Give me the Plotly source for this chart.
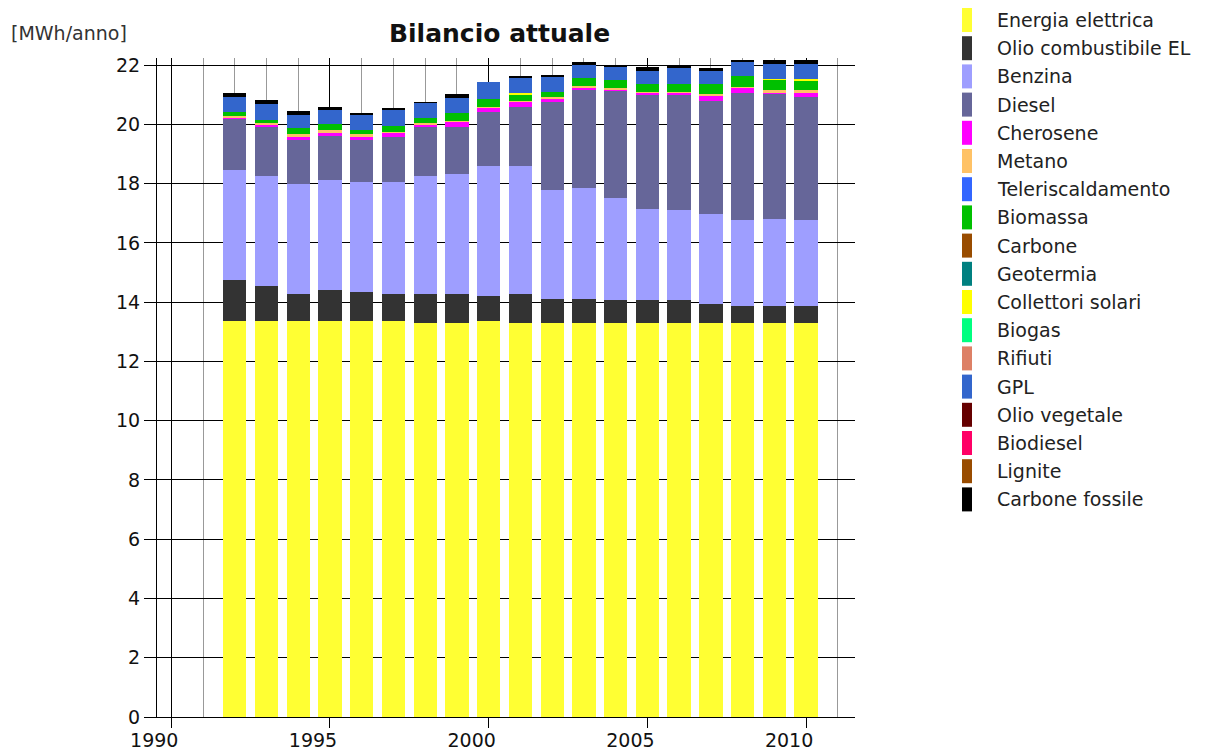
import plotly.graph_objects as go

years = list(range(1992, 2011))

energia_elettrica = [13.35, 13.35, 13.35, 13.35, 13.35, 13.35, 13.3, 13.3, 13.35, 13.3,
                     13.3, 13.3, 13.3, 13.3, 13.3, 13.3, 13.3, 13.3, 13.3]
olio_combustibile = [1.39, 1.19, 0.92, 1.06, 0.99, 0.92, 0.97, 0.97, 0.85, 0.97,
                     0.82, 0.82, 0.77, 0.77, 0.77, 0.63, 0.57, 0.57, 0.57]
benzina = [3.71, 3.71, 3.71, 3.71, 3.71, 3.78, 3.98, 4.05, 4.39, 4.32,
           3.66, 3.73, 3.43, 3.09, 3.03, 3.04, 2.90, 2.95, 2.90]
diesel = [1.74, 1.69, 1.49, 1.48, 1.42, 1.52, 1.69, 1.58, 1.83, 2.00,
          2.99, 3.30, 3.63, 3.83, 3.89, 3.82, 4.29, 4.22, 4.16]
cherosene = [0.03, 0.04, 0.12, 0.12, 0.12, 0.14, 0.04, 0.18, 0.14, 0.18,
             0.08, 0.10, 0.06, 0.07, 0.07, 0.17, 0.17, 0.05, 0.16]
metano = [0.06, 0.05, 0.07, 0.08, 0.08, 0.03, 0.05, 0.02, 0.02, 0.02,
          0.07, 0.03, 0.05, 0.03, 0.04, 0.06, 0.02, 0.06, 0.06]
teleriscaldamento = [0.0] * 19
biomassa = [0.15, 0.13, 0.21, 0.20, 0.14, 0.20, 0.17, 0.27, 0.26, 0.22,
            0.18, 0.29, 0.25, 0.27, 0.27, 0.33, 0.38, 0.37, 0.31]
carbone = [0.0] * 19
geotermia = [0.0] * 19
collettori_solari = [0.0, 0.0, 0.0, 0.0, 0.0, 0.0, 0.0, 0.0, 0.0, 0.04,
                     0.0, 0.0, 0.0, 0.0, 0.0, 0.0, 0.0, 0.02, 0.08]
biogas = [0.0] * 19
rifiuti = [0.0] * 19
gpl = [0.50, 0.52, 0.44, 0.49, 0.51, 0.53, 0.53, 0.51, 0.60, 0.52,
       0.53, 0.45, 0.46, 0.45, 0.55, 0.45, 0.47, 0.51, 0.50]
olio_vegetale = [0.0] * 19
biodiesel = [0.0] * 19
lignite = [0.0] * 19
carbone_fossile = [0.14, 0.14, 0.14, 0.09, 0.08, 0.09, 0.02, 0.14, 0.0, 0.07,
                   0.02, 0.07, 0.07, 0.12, 0.02, 0.10, 0.07, 0.12, 0.13]

names = ["Energia elettrica", "Olio combustibile EL", "Benzina", "Diesel", "Cherosene",
         "Metano", "Teleriscaldamento", "Biomassa", "Carbone", "Geotermia",
         "Collettori solari", "Biogas", "Rifiuti", "GPL", "Olio vegetale",
         "Biodiesel", "Lignite", "Carbone fossile"]
series = [energia_elettrica, olio_combustibile, benzina, diesel, cherosene, metano,
          teleriscaldamento, biomassa, carbone, geotermia, collettori_solari, biogas,
          rifiuti, gpl, olio_vegetale, biodiesel, lignite, carbone_fossile]
colors = ["#FFFF33", "#333333", "#9E9EFF", "#666699", "#FF00FF", "#FFC266",
          "#3366FF", "#00C000", "#994C00", "#008080", "#FFFF00", "#00FF80",
          "#DD8066", "#3366CC", "#660000", "#FF0066", "#994C00", "#000000"]

# the page body has an 8px margin, so the figure sits at (8, 8)
PAGE_OFF = 8
W, H = 1217 - PAGE_OFF, 753 - PAGE_OFF
# plot area in page pixels
L, R, T, B = 157, 855, 58, 717


def px_x(x):
    return (x - L) / (R - L)


def px_y(y):
    return (B - y) / (B - T)


fig = go.Figure()
for name, vals, col in zip(names, series, colors):
    fig.add_trace(go.Bar(x=years, y=vals, name=name, marker_color=col,
                         marker_line_width=0, width=0.735, showlegend=False))

font = "DejaVu Sans"
shapes = []
annotations = []
# hand-drawn legend (tall swatches, wide spacing)
for i, (name, col) in enumerate(zip(names, colors)):
    cy = 20 + 28.2 * i
    shapes.append(dict(type="rect", xref="paper", yref="paper",
                       x0=px_x(962), x1=px_x(972), y0=px_y(cy + 12), y1=px_y(cy - 12),
                       fillcolor=col, line_width=0))
    annotations.append(dict(text=name, xref="paper", yref="paper", x=px_x(995), y=px_y(cy),
                            xanchor="left", yanchor="middle", showarrow=False,
                            font=dict(family=font, size=19, color="#222")))

annotations.append(dict(text="Bilancio attuale", xref="paper", yref="paper",
                        x=px_x(499), y=px_y(33), xanchor="center", yanchor="middle",
                        showarrow=False,
                        font=dict(family=font, size=25, color="#111", weight="bold")))
annotations.append(dict(text="[MWh/anno]", xref="paper", yref="paper",
                        x=px_x(9), y=px_y(33), xanchor="left", yanchor="middle",
                        showarrow=False, font=dict(family=font, size=19, color="#333")))

fig.update_layout(
    width=W, height=H,
    margin=dict(l=L - PAGE_OFF, r=W - (R - PAGE_OFF), t=T - PAGE_OFF,
                b=H - (B - PAGE_OFF), pad=0, autoexpand=False),
    barmode="stack",
    plot_bgcolor="white", paper_bgcolor="white",
    font=dict(family=font, size=19, color="#111"),
    shapes=shapes, annotations=annotations,
    xaxis=dict(range=[1989.55, 2011.54], tickmode="linear", tick0=1990, dtick=5,
               showgrid=True, gridcolor="#000", gridwidth=1,
               ticks="outside", ticklen=10, tickcolor="#000",
               showline=True, linecolor="#000", zeroline=False, automargin=False,
               ticklabelshift=-17, ticklabelstandoff=-4,
               minor=dict(tick0=1990, dtick=1, showgrid=True, gridcolor="#999",
                          gridwidth=1, ticks="")),
    yaxis=dict(range=[0, 22.24], tickmode="linear", tick0=0, dtick=2,
               showgrid=True, gridcolor="#000", gridwidth=1,
               ticks="outside", ticklen=12, tickcolor="#000",
               showline=True, linecolor="#000", zeroline=False, automargin=False),
)

fig.write_html("out.html")
